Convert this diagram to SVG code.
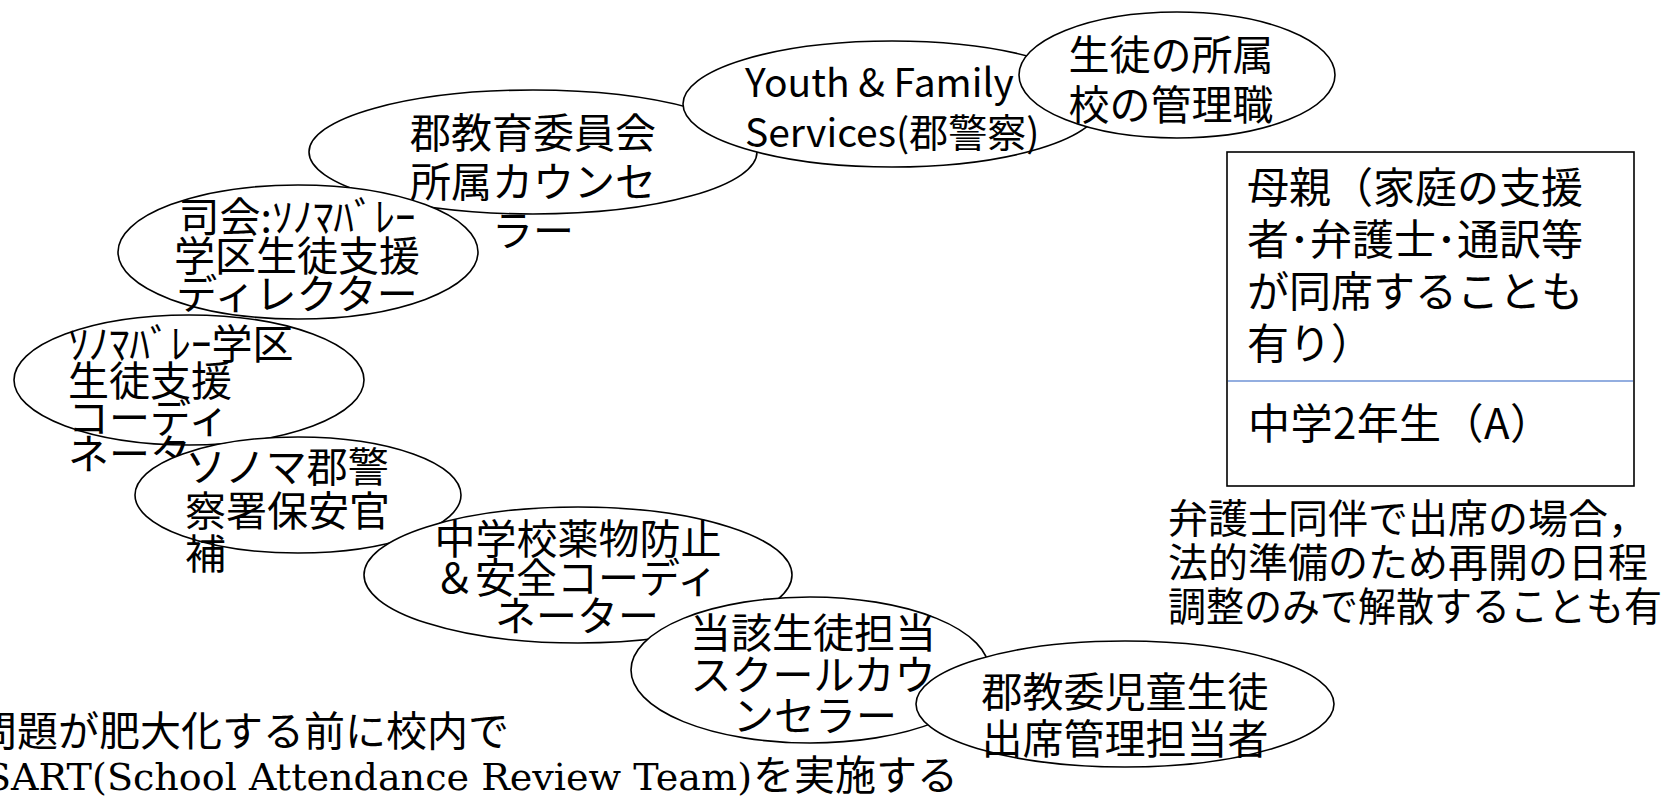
<svg xmlns="http://www.w3.org/2000/svg" width="1668" height="798" viewBox="0 0 1668 798">
<style>
.n{fill:#fff;stroke:#000;stroke-width:1.6}
.t{font-family:'Noto Sans CJK JP','Noto Sans',sans-serif;font-size:41px;fill:#000}
.c{text-anchor:middle}
.m{font-family:'Noto Sans CJK JP','Liberation Serif',serif;font-size:40px;fill:#000}
</style>
<rect width="1668" height="798" fill="#fff"/>
<g id="connectors"></g>
<g id="node-gun-kyoiku">
<ellipse class="n" cx="533" cy="152" rx="224" ry="62"/>
<text class="t c" x="533"><tspan x="533" y="148">郡教育委員会</tspan><tspan x="533" y="197">所属カウンセ</tspan><tspan x="533" y="246">ラー</tspan></text>
</g>
<g id="node-youth">
<ellipse class="n" cx="892" cy="104" rx="209" ry="63"/>
<text class="t" style="font-size:39px"><tspan x="745" y="97">Youth &amp; Family</tspan><tspan x="745" y="147">Services(郡警察)</tspan></text>
</g>
<g id="node-kanrishoku">
<ellipse class="n" cx="1177" cy="75" rx="158" ry="63"/>
<text class="t c"><tspan x="1171" y="70">生徒の所属</tspan><tspan x="1171" y="120">校の管理職</tspan></text>
</g>
<g id="node-shikai">
<ellipse class="n" cx="298" cy="252" rx="180" ry="67"/>
<text class="t c"><tspan x="297" y="232">司会:ｿﾉﾏﾊﾞﾚｰ</tspan><tspan x="297" y="271">学区生徒支援</tspan><tspan x="297" y="309">ディレクター</tspan></text>
</g>
<g id="node-coordinator">
<ellipse class="n" cx="189" cy="380" rx="175" ry="65"/>
<text class="t"><tspan x="68" y="359">ｿﾉﾏﾊﾞﾚｰ学区</tspan><tspan x="68" y="396">生徒支援</tspan><tspan x="68" y="433">コーディ</tspan><tspan x="68" y="469">ネーター</tspan></text>
</g>
<g id="node-police">
<ellipse class="n" cx="298" cy="495" rx="163" ry="58"/>
<text class="t"><tspan x="185" y="482">ソノマ郡警</tspan><tspan x="185" y="526">察署保安官</tspan><tspan x="185" y="569">補</tspan></text>
</g>
<g id="node-drug">
<ellipse class="n" cx="578" cy="575" rx="214" ry="68"/>
<text class="t c"><tspan x="578" y="554">中学校薬物防止</tspan><tspan x="576" y="593">＆安全コーディ</tspan><tspan x="577" y="631">ネーター</tspan></text>
</g>
<g id="node-counselor">
<ellipse class="n" cx="810" cy="670" rx="179" ry="73"/>
<text class="t c"><tspan x="813" y="648">当該生徒担当</tspan><tspan x="813" y="690">スクールカウ</tspan><tspan x="815" y="731">ンセラー</tspan></text>
</g>
<g id="node-attendance">
<ellipse class="n" cx="1125" cy="704" rx="209" ry="63"/>
<text class="t c"><tspan x="1125" y="707">郡教委児童生徒</tspan><tspan x="1125" y="754">出席管理担当者</tspan></text>
</g>
<g id="node-mother">
<rect x="1227" y="152" width="407" height="334" fill="#fff" stroke="#000" stroke-width="1.6"/>
<line x1="1228" y1="381" x2="1633" y2="381" stroke="#6f93d6" stroke-width="1.6"/>
<text class="t" style="font-size:42px"><tspan x="1247" y="203">母親（家庭の支援</tspan><tspan x="1247" y="255">者･弁護士･通訳等</tspan><tspan x="1247" y="307">が同席することも</tspan><tspan x="1247" y="359">有り）</tspan></text>
<text class="t" style="font-size:42px" x="1248" y="439" textLength="304" lengthAdjust="spacing">中学2年生（A）</text>
</g>
<g id="note-lawyer">
<text class="m"><tspan x="1168" y="533">弁護士同伴で出席の場合，</tspan><tspan x="1168" y="577">法的準備のため再開の日程</tspan><tspan x="1168" y="621" textLength="494" lengthAdjust="spacingAndGlyphs">調整のみで解散することも有</tspan></text>
</g>
<g id="note-sart">
<text class="m" style="font-size:41px" x="-24" y="746">問題が肥大化する前に校内で</text>
<text class="m" style="font-size:41px" y="790"><tspan x="-15" style="font-family:'DejaVu Serif',serif;font-size:37px" textLength="767" lengthAdjust="spacingAndGlyphs">SART(School Attendance Review Team)</tspan><tspan x="753">を実施する</tspan></text>
</g>
</svg>
